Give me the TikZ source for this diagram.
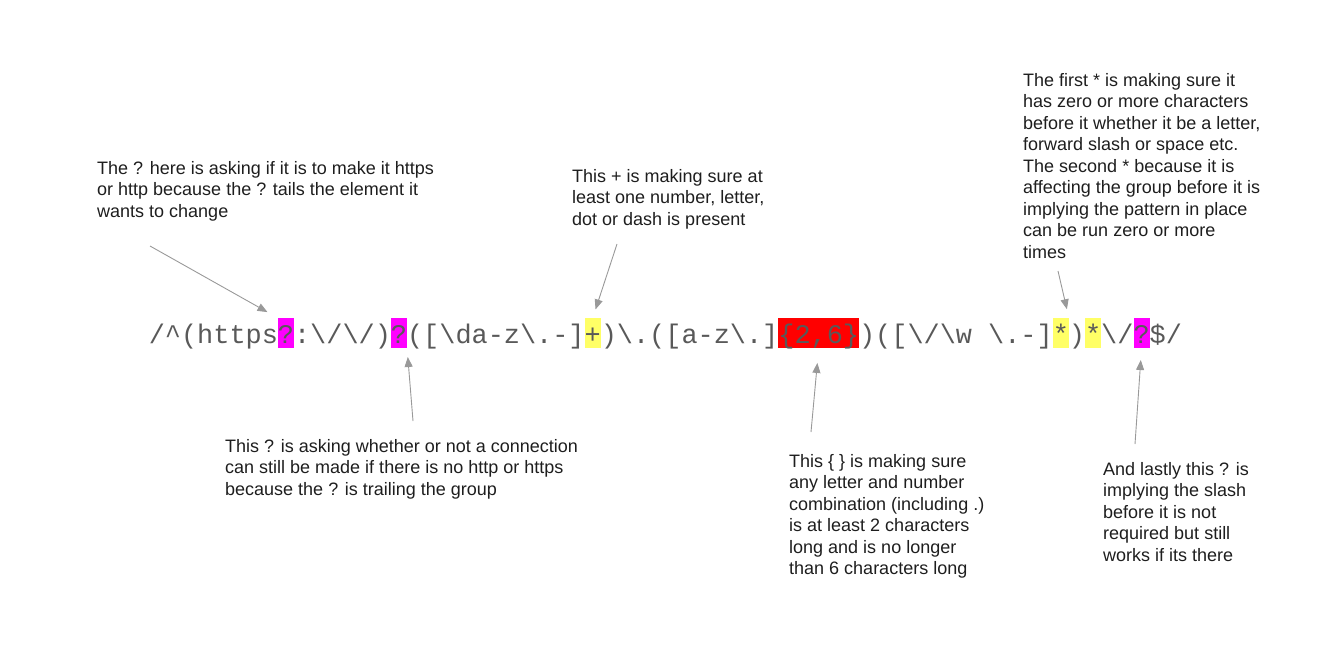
\documentclass[tikz,border=0pt]{standalone}
\usepackage{fontspec}
\setmainfont{Liberation Sans}
\setmonofont{Liberation Mono}
\usetikzlibrary{positioning, arrows.meta}
\definecolor{regexgray}{HTML}{595959}
\definecolor{notegray}{HTML}{1E1E1E}
\definecolor{arrowgray}{HTML}{999999}
\definecolor{hlpink}{HTML}{FF00FF}
\definecolor{hlyellow}{HTML}{FFFF66}
\definecolor{hlred}{HTML}{FF0000}

\begin{document}
\begin{tikzpicture}[x=1pt, y=-1pt,
regexpart/.style={inner sep=0pt, outer sep=0pt, text height=25pt, text depth=5pt, anchor=base west, text=regexgray, font=\ttfamily\fontsize{26.9}{30}\selectfont},
pinkpart/.style={regexpart, fill=hlpink},
yellowpart/.style={regexpart, fill=hlyellow},
redpart/.style={regexpart, fill=hlred},
notenode/.style={align=left, anchor=base west, inner sep=0pt, text=notegray, font=\fontsize{18}{21.5}\selectfont},
pointer/.style={-{Triangle[length=10pt, width=8pt]}, draw=arrowgray, line width=0.9pt},
]
\useasboundingbox (0,0) rectangle (1327,664);
%regex
\node[regexpart](s1) at (148.8,343) {/\textasciicircum(https};
\node[pinkpart](q1) at (s1.base east) {?};
\node[regexpart](s2) at (q1.base east) {:\textbackslash/\textbackslash/)};
\node[pinkpart](q2) at (s2.base east) {?};
\node[regexpart](s3) at (q2.base east) {([\textbackslash{}da-z\textbackslash.-]};
\node[yellowpart](p1) at (s3.base east) {+};
\node[regexpart](s4) at (p1.base east) {)\textbackslash.([a-z\textbackslash.]};
\node[redpart](r1) at (s4.base east) {\{2,6\}};
\node[regexpart](s5) at (r1.base east) {)([\textbackslash/\textbackslash{}w\ \textbackslash.-]};
\node[yellowpart](a1) at (s5.base east) {*};
\node[regexpart](s6) at (a1.base east) {)};
\node[yellowpart](a2) at (s6.base east) {*};
\node[regexpart](s7) at (a2.base east) {\textbackslash/};
\node[pinkpart](q3) at (s7.base east) {?};
\node[regexpart](s8) at (q3.base east) {\$/};
%notes (placed at the baseline of their last line)
\node[notenode](n1) at (97,217) {The ? here is asking if it is to make it https\\or http because the ? tails the element it\\wants to change};
\node[notenode](n2) at (572,225) {This + is making sure at\\least one number, letter,\\dot or dash is present};
\node[notenode](n3) at (1023,258) {The first * is making sure it\\has zero or more characters\\before it whether it be a letter,\\forward slash or space etc.\\The second * because it is\\affecting the group before it is\\implying the pattern in place\\can be run zero or more\\times};
\node[notenode](n4) at (225,495) {This ? is asking whether or not a connection\\can still be made if there is no http or https\\because the ? is trailing the group};
\node[notenode](n5) at (789,574.5) {This \{ \} is making sure\\any letter and number\\combination (including .)\\is at least 2 characters\\long and is no longer\\than 6 characters long};
\node[notenode](n6) at (1103,561) {And lastly this ? is\\implying the slash\\before it is not\\required but still\\works if its there};
%connections
\coordinate (t1) at (150,246);
\coordinate (t2) at (413,421);
\coordinate (t3) at (617,244);
\coordinate (t4) at (811,432);
\coordinate (t5) at (1058,271);
\coordinate (t6) at (1135,444);
\draw[pointer, shorten >=12pt] (t1) -- (q1.north west);
\draw[pointer, shorten >=9pt] (t2) -- (q2.south east);
\draw[pointer, shorten >=9pt] (t3) -- (p1.north);
\draw[pointer, shorten >=15pt] (t4) -- (r1.south);
\draw[pointer, shorten >=9pt] (t5) -- (a1.north east);
\draw[pointer, shorten >=12pt] (t6) -- (q3.south);
\end{tikzpicture}
\end{document}
